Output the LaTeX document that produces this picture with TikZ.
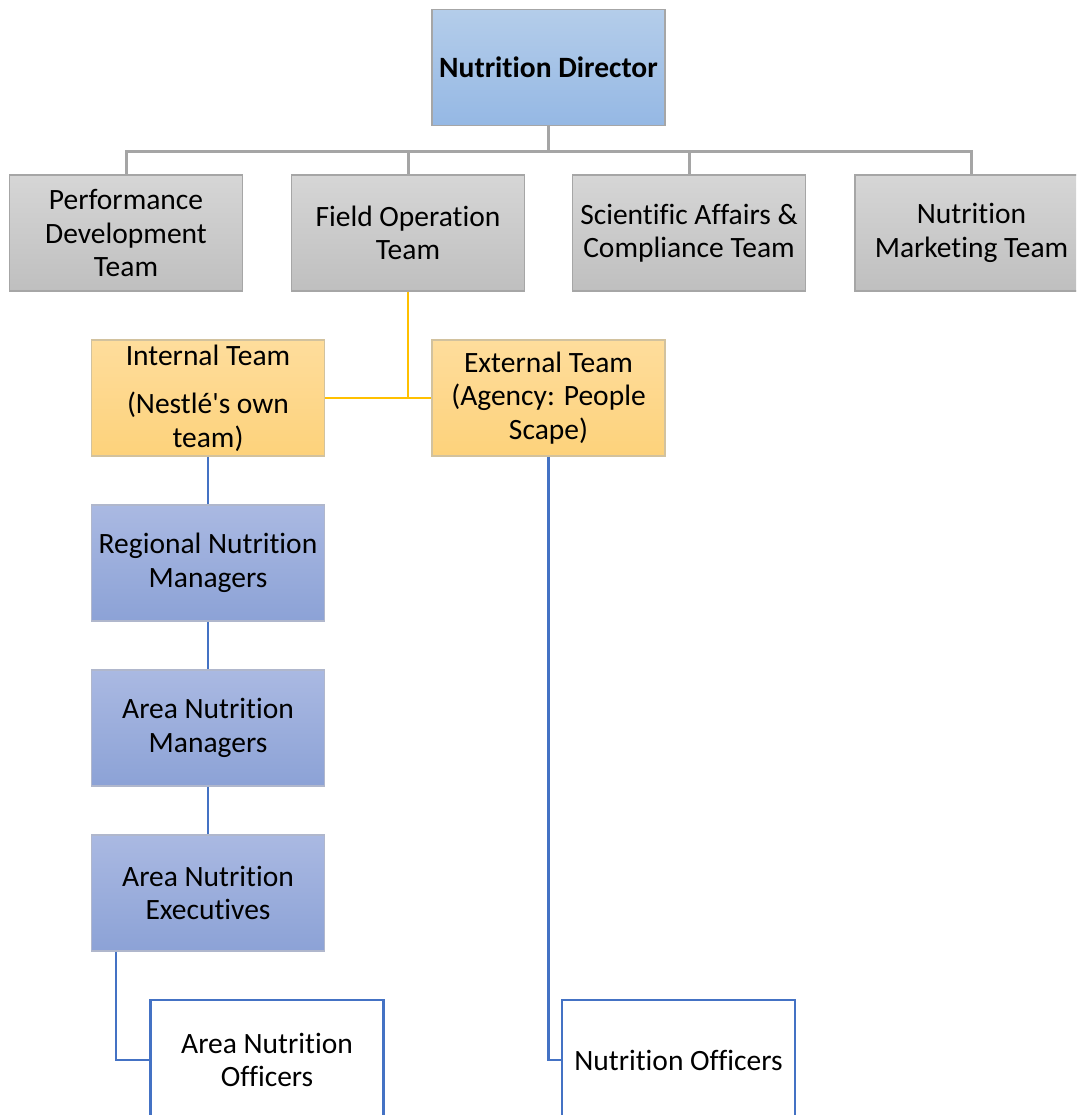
\documentclass[tikz,border=0pt]{standalone}
\usepackage{fontspec}
\setmainfont{Carlito}[Ligatures={TeXOff,NoCommon,NoContextual,NoRare},Contextuals=NoAlternate]
\definecolor{gtop}{HTML}{D6D6D6}
\definecolor{gbot}{HTML}{BFBFBF}
\definecolor{gbrd}{HTML}{A6A6A6}
\definecolor{dtop}{HTML}{B4CDEA}
\definecolor{dbot}{HTML}{95B8E4}
\definecolor{ytop}{HTML}{FEDD9C}
\definecolor{ybot}{HTML}{FDD27B}
\definecolor{ybrd}{HTML}{D2C29E}
\definecolor{btop}{HTML}{AAB9E2}
\definecolor{bbot}{HTML}{8CA2D6}
\definecolor{bbrd}{HTML}{B0B7CC}
\definecolor{lgray}{HTML}{A5A5A5}
\definecolor{lyel}{HTML}{FFC000}
\definecolor{lblue}{HTML}{4472C4}
\tikzset{
  box/.style={rectangle, minimum width=233, minimum height=116, align=center, inner sep=0pt,
    line width=1.2pt, font=\fontsize{29.5}{33.5}\selectfont},
  graybox/.style={box, draw=gbrd, top color=gtop, bottom color=gbot},
  dirbox/.style={box, draw=gbrd, top color=dtop, bottom color=dbot, font=\fontsize{29.5}{33.5}\selectfont\bfseries},
  yelbox/.style={box, draw=ybrd, top color=ytop, bottom color=ybot},
  bluebox/.style={box, draw=bbrd, top color=btop, bottom color=bbot},
  offbox/.style={box, draw=lblue, fill=white, line width=2.2pt, minimum height=120},
  gline/.style={draw=lgray, line width=3pt},
  yline/.style={draw=lyel, line width=2.5pt},
  bline/.style={draw=lblue, line width=2.5pt},
}
\begin{document}
\begin{tikzpicture}[x=1pt,y=-1pt]
\clip (0,0) rectangle (1076,1115);
\fill[white] (0,0) rectangle (1076,1115);
\node[dirbox] (dir) at (548.5,67.5) {Nutrition Director};
\node[graybox] (perf) at (126,233) {Performance\\Development\\Team};
\node[graybox] (fot) at (408,233) {Field Operation\\Team};
\node[graybox] (sci) at (689,233) {Scientific Affairs \&\\Compliance Team};
\node[graybox] (mkt) at (971.5,233) {Nutrition\\Marketing Team};
\node[yelbox] (int) at (208,398) {Internal Team\\[15pt](Nestlé's own\\team)};
\node[yelbox] (ext) at (548.5,398) {External Team\\(Agency: People\\Scape)};
\node[bluebox] (reg) at (208,563) {Regional Nutrition\\Managers};
\node[bluebox] (anm) at (208,728) {Area Nutrition\\Managers};
\node[bluebox] (exe) at (208,893) {Area Nutrition\\Executives};
\node[offbox] (ao) at (267,1060) {Area Nutrition\\Officers};
\node[offbox] (no) at (678.5,1060) {Nutrition Officers};
\foreach \t in {perf,fot,sci,mkt}
  \draw[gline] (dir.south) -- ++(0,25) -| (\t.north);
\draw[yline] (fot.south) |- (int.east);
\draw[yline] (fot.south) |- (ext.west);
\draw[bline] (int.south) -- (reg.north);
\draw[bline] (reg.south) -- (anm.north);
\draw[bline] (anm.south) -- (exe.north);
\draw[bline] ([xshift=-92pt]exe.south) |- (ao.west);
\draw[bline] (ext.south) |- (no.west);
\end{tikzpicture}
\end{document}
